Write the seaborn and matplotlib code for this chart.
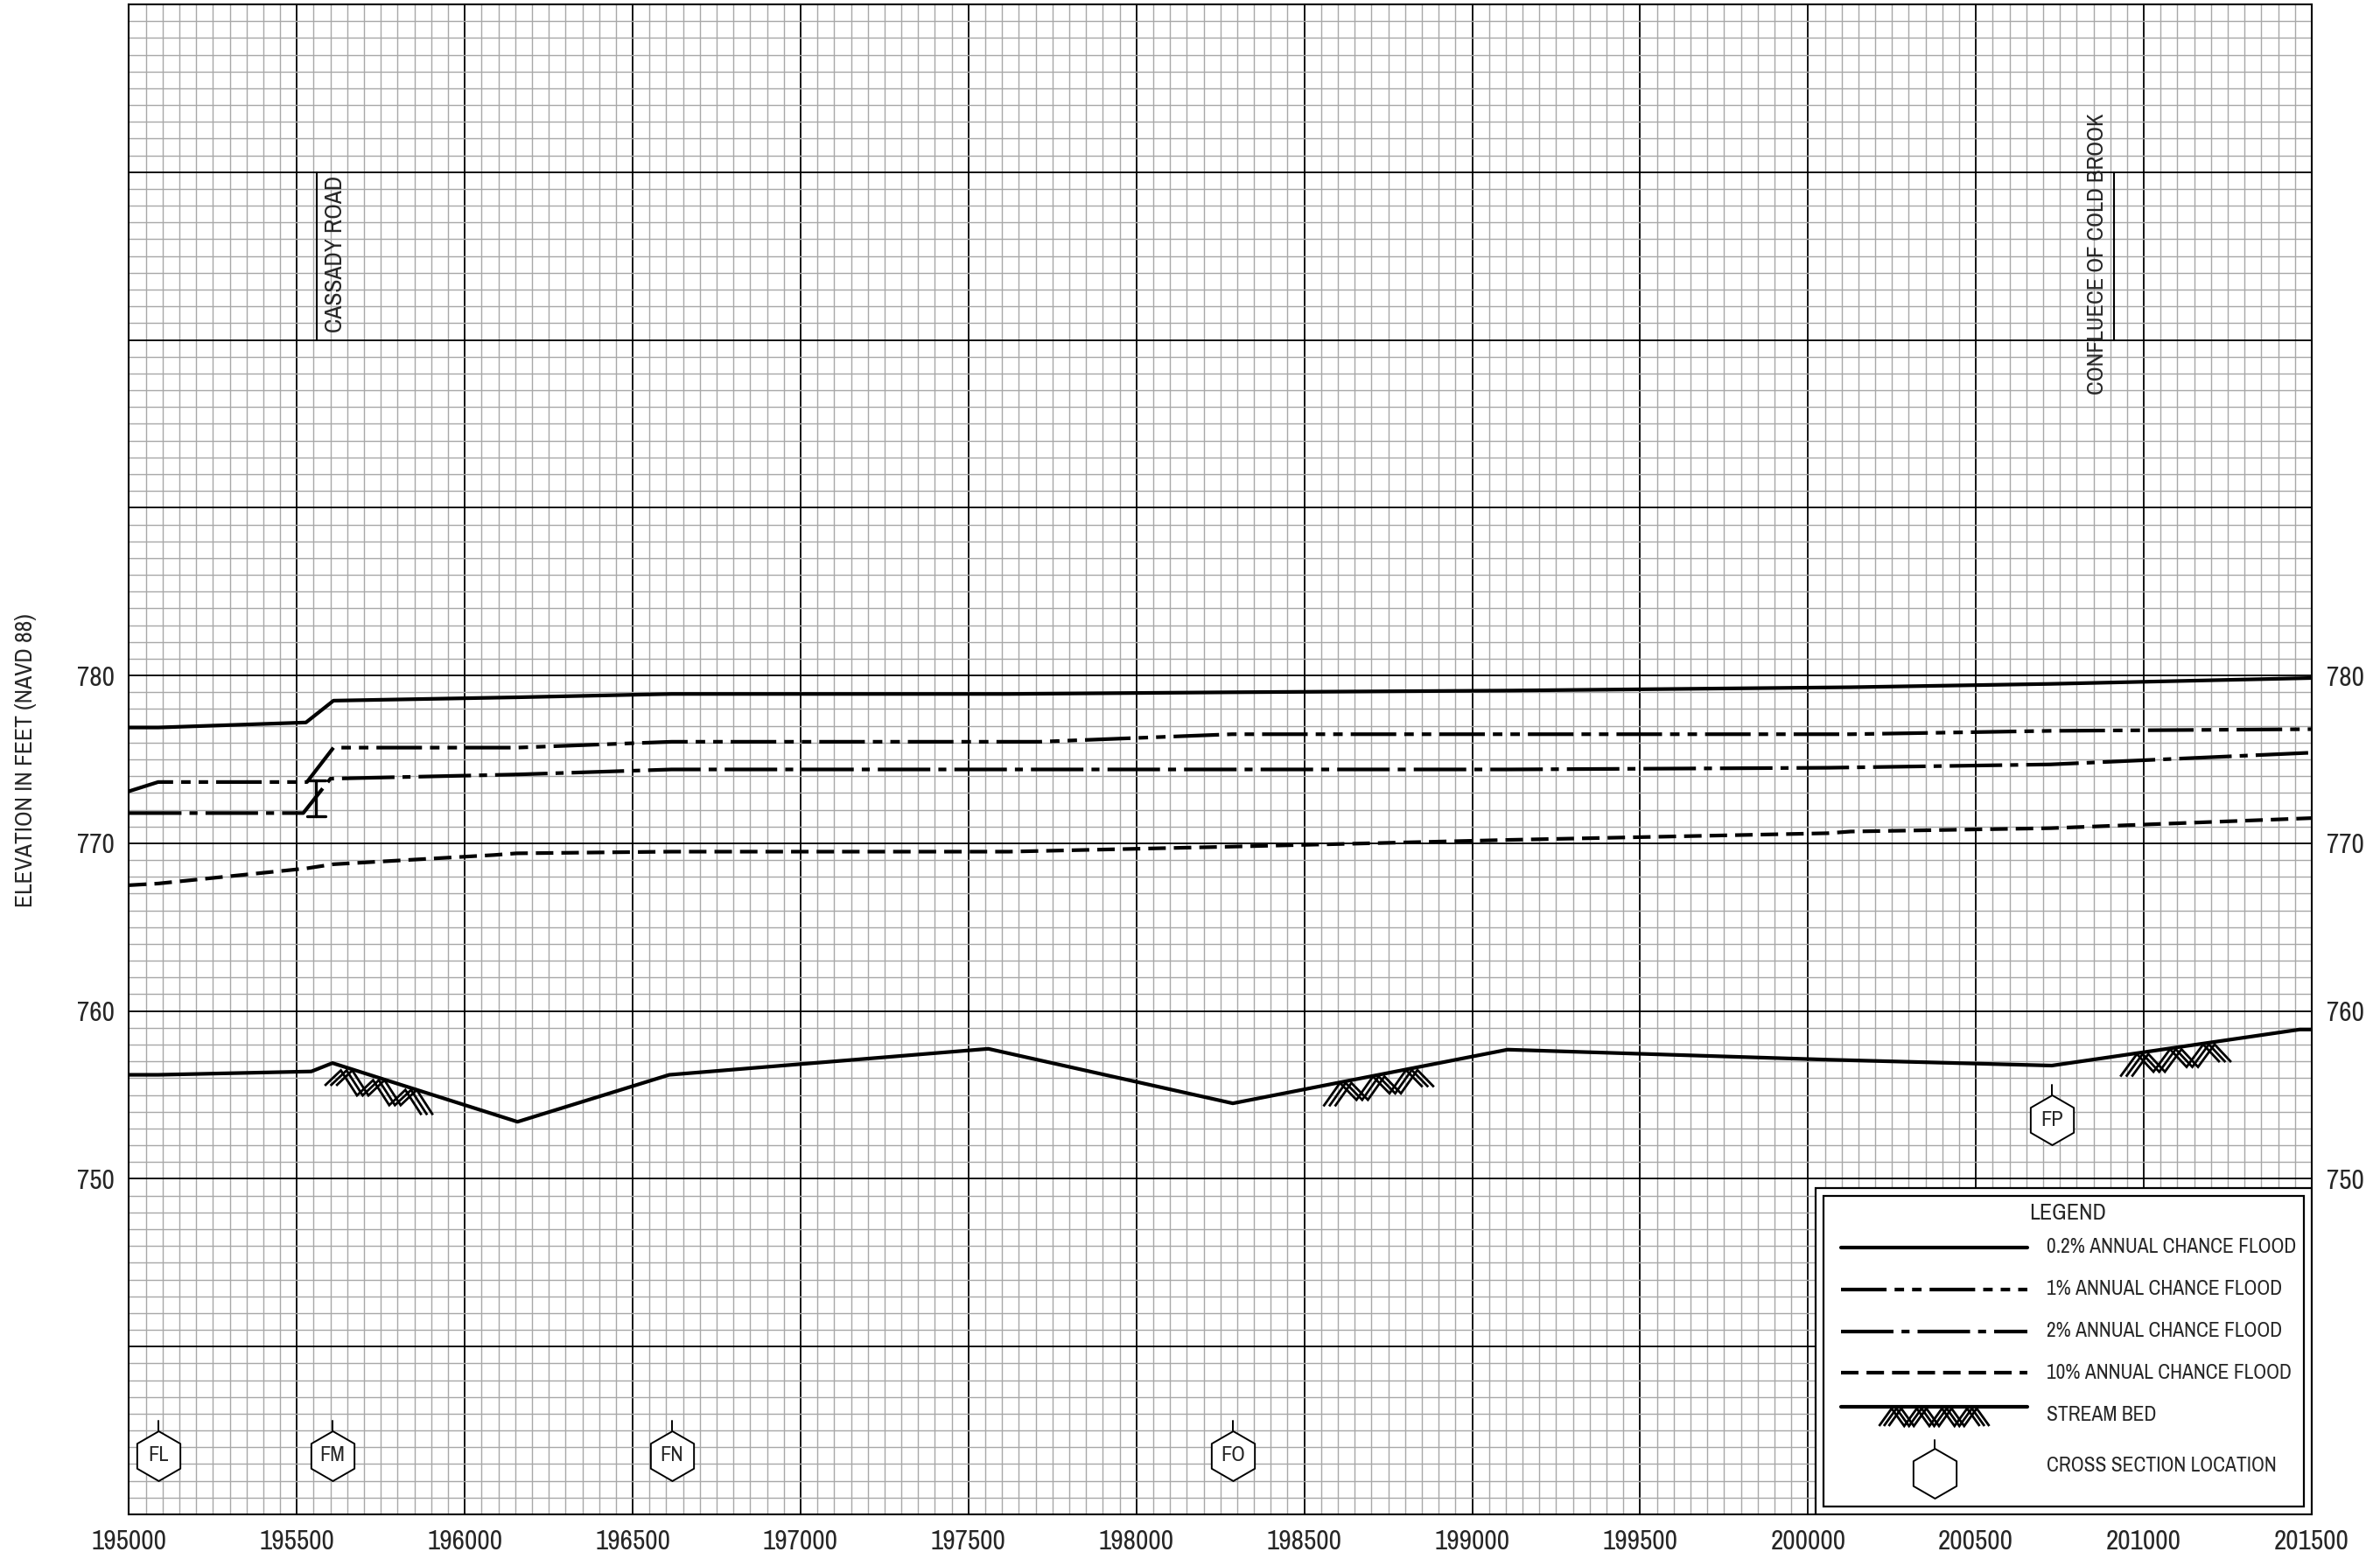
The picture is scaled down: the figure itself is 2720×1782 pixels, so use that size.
import os
import numpy as np
import matplotlib
matplotlib.use("Agg")
import matplotlib.pyplot as plt
from matplotlib import font_manager as fm
from matplotlib.patches import Rectangle
from matplotlib.ticker import MultipleLocator
import seaborn as sns

# stations (ft) and water surface elevations (ft NAVD 88)
x_02 = [195000, 195087, 195527, 195609, 196154, 196616, 197621, 198285, 199107, 200127, 200722, 201500]
y_02 = [776.9, 776.9, 777.2, 778.5, 778.7, 778.9, 778.9, 779.0, 779.1, 779.3, 779.5, 779.85]

x_1 = [195000, 195087, 195530, 195609, 196154, 196616, 197711, 198285, 199107, 200127, 200722, 201500]
y_1 = [773.1, 773.65, 773.65, 775.7, 775.7, 776.05, 776.05, 776.5, 776.5, 776.5, 776.7, 776.8]

x_2 = [195000, 195087, 195519, 195600, 196154, 196616, 199107, 200059, 200722, 201500]
y_2 = [771.8, 771.8, 771.8, 773.85, 774.1, 774.4, 774.4, 774.5, 774.7, 775.4]

x_10 = [195000, 195087, 195527, 195609, 196087, 196154, 196616, 197621, 198285, 199107, 200059, 200127, 200722, 201500]
y_10 = [767.5, 767.6, 768.5, 768.75, 769.3, 769.4, 769.5, 769.5, 769.8, 770.2, 770.6, 770.7, 770.9, 771.5]

bed_x = [195000, 195087, 195543, 195606, 196157, 196609, 197559, 198287, 199105, 200061, 200726, 201464, 201500]
bed_y = [756.2, 756.2, 756.4, 756.9, 753.4, 756.2, 757.75, 754.5, 757.7, 757.1, 756.75, 758.9, 758.9]

# stretches of stream bed drawn with the bed symbol
hatch_from = [195600, 198574, 200947]
hatch_to = [195888, 198869, 201243]

xs_names = ["FL", "FM", "FN", "FO", "FP"]
xs_station = [195087, 195606, 196616, 198287, 200726]
xs_elev = [733.5, 733.5, 733.5, 733.5, 753.5]

road_station = 195557
road_low, road_high = 771.6, 773.75

labels_x = ["CASSADY ROAD", "CONFLUECE OF COLD BROOK"]
labels_station = [195558, 200911]

x_ticks = list(range(195000, 201501, 500))
y_ticks = list(range(730, 821, 10))
y_labels = [str(v) if 750 <= v <= 780 else "" for v in y_ticks]

legend_labels = ["0.2% ANNUAL CHANCE FLOOD", "1% ANNUAL CHANCE FLOOD",
                 "2% ANNUAL CHANCE FLOOD", "10% ANNUAL CHANCE FLOOD"]

sns.set_style("white")
plt.rcParams['font.family'] = ['Roboto', 'DejaVu Sans']


# narrow face if one is installed, otherwise Roboto
def pick_font():
    best = None
    for key in ("narrow", "condensed"):
        for f in fm.fontManager.ttflist:
            base = os.path.basename(f.fname).lower()
            if key in base and not any(k in base for k in ("bold", "italic", "oblique", "light", "thin", "black", "medium", "semi", "extra")):
                best = f.fname
                break
        if best:
            return fm.FontProperties(fname=best)
    return fm.FontProperties(family=['Roboto', 'DejaVu Sans'])


FP = pick_font()

LW = 3.0
styles = ['-',
          (0, (12.5, 2.2, 2.6, 2.2, 2.6, 2.2)),
          (0, (14.4, 2.2, 2.2, 2.2)),
          (0, (4.8, 2.2))]

fig = plt.figure(figsize=(27.2, 17.82), dpi=100)
ax = fig.add_axes([147.4 / 2720, 51 / 1782, 2494.6 / 2720, 1726 / 1782])
renderer = fig.canvas.get_renderer()


def font(text, target_px):
    p = FP.copy()
    p.set_size(20)
    w, h, d = renderer.get_text_width_height_descent(text, p, ismath=False)
    p.set_size(20 * target_px / w)
    return p


for xx, yy, ls in zip([x_02, x_1, x_2, x_10], [y_02, y_1, y_2, y_10], styles):
    sns.lineplot(x=xx, y=yy, ax=ax, color='black', lw=LW, linestyle=ls,
                 sort=False, estimator=None, legend=False, zorder=3)

sns.lineplot(x=bed_x, y=bed_y, ax=ax, color='black', lw=LW, sort=False,
             estimator=None, legend=False, zorder=3)

# road structure marker
cap = 27
ax.plot([road_station, road_station], [road_low, road_high], color='black', lw=2.4, zorder=3)
ax.plot([road_station - cap, road_station + cap], [road_low, road_low], color='black', lw=2.4, zorder=3)
ax.plot([road_station - cap, road_station + cap], [road_high, road_high], color='black', lw=2.4, zorder=3)


def zigzag(ax, x0, x1, top0, top1, depth, shift, n=3, **kw):
    xs = np.linspace(x0, x1, 2 * n + 1)
    top = np.interp(xs, [x0, x1], [top0, top1])
    yy = np.where(np.arange(len(xs)) % 2 == 0, top - depth, top)
    for s in (-shift, 0, shift):
        ax.plot(xs + s, yy, color='black', lw=2.0, solid_capstyle='butt',
                solid_joinstyle='miter', **kw)


for a, b in zip(hatch_from, hatch_to):
    t0 = np.interp(a, bed_x, bed_y) - 0.1
    t1 = np.interp(b, bed_x, bed_y) - 0.1
    zigzag(ax, a, b, t0, t1, 1.2, 17, n=3, zorder=3)

# cross sections
sns.scatterplot(x=xs_station, y=xs_elev, ax=ax, marker='h', s=1681, color='white',
                edgecolor='black', linewidth=1.4, zorder=4, legend=False)
xs_font = font("FM", 29)
xs_font.set_weight('bold')
for name, xv, yv in zip(xs_names, xs_station, xs_elev):
    ax.plot([xv, xv], [yv + 1.48, yv + 2.1], color='black', lw=1.4, zorder=4)
    ax.text(xv, yv, name, ha='center', va='center', fontproperties=xs_font, zorder=5)

# vertical annotations
ax.plot([labels_station[0]] * 2, [800, 810], color='black', lw=1.5, zorder=3)
ax.text(labels_station[0] + 56, 805.1, labels_x[0], rotation=90, ha='center', va='center',
        fontproperties=font(labels_x[0], 180), zorder=4)
ax.plot([labels_station[1]] * 2, [800, 810], color='black', lw=1.5, zorder=3)
ax.text(labels_station[1] - 50, 805.1, labels_x[1], rotation=90, ha='center', va='center',
        fontproperties=font(labels_x[1], 323), zorder=4)

ax.set_xlim(195000, 201500)
ax.set_ylim(730, 820)
tick_font = font("201500", 86)
ax.set_xticks(x_ticks, [str(v) for v in x_ticks], fontproperties=tick_font)
ax.set_yticks(y_ticks, y_labels, fontproperties=tick_font)
ax.xaxis.set_minor_locator(MultipleLocator(50))
ax.yaxis.set_minor_locator(MultipleLocator(1))
ax.grid(which='minor', color='#a8a8a8', lw=1.0, zorder=0)
ax.grid(which='major', color='black', lw=1.3, zorder=1)
ax.tick_params(which='both', length=0)
ax.tick_params(axis='x', pad=12)
ax.tick_params(axis='y', pad=12, labelright=True)
for sp in ax.spines.values():
    sp.set_color('black')
    sp.set_linewidth(1.5)
ax.set_xlabel("")
ax.set_ylabel("")
ylab = "ELEVATION IN FEET (NAVD 88)"
fig.text(30 / 2720, 1 - 869 / 1782, ylab, rotation=90,
         ha='center', va='center', fontproperties=font(ylab, 338))


# ---- legend box (drawn in axes fractions from pixel layout)
def fx(px):
    return (px - 147.4) / 2494.6


def fy(py):
    return (1731 - py) / 1726


ax.add_patch(Rectangle((fx(2075), fy(1731)), fx(2642) - fx(2075), fy(1358) - fy(1731),
                       transform=ax.transAxes, fc='white', ec='black', lw=1.6, zorder=6))
ax.add_patch(Rectangle((fx(2084), fy(1722)), fx(2633) - fx(2084), fy(1367) - fy(1722),
                       transform=ax.transAxes, fc='none', ec='black', lw=1.6, zorder=7))
ax.text(fx(2363), fy(1386), "LEGEND", transform=ax.transAxes, ha='center', va='center',
        fontproperties=font("LEGEND", 88), zorder=8)
leg_font = font(legend_labels[0], 286)
rows = [1426, 1474, 1522, 1569]
for ls, lab, r in zip(styles, legend_labels, rows):
    ax.plot([fx(2104), fx(2317)], [fy(r), fy(r)], transform=ax.transAxes, color='black',
            lw=LW, linestyle=ls, zorder=8)
    ax.text(fx(2339), fy(r), lab, transform=ax.transAxes, va='center', fontproperties=leg_font, zorder=8)
ax.plot([fx(2104), fx(2317)], [fy(1608), fy(1608)], transform=ax.transAxes, color='black',
        lw=LW, zorder=8)
zigzag(ax, fx(2153), fx(2268), fy(1610), fy(1610), fy(1610) - fy(1630), 5.5 / 2494.6, n=4,
       transform=ax.transAxes, zorder=8)
ax.text(fx(2339), fy(1618), "STREAM BED", transform=ax.transAxes, va='center',
        fontproperties=leg_font, zorder=8)
ax.scatter([fx(2211)], [fy(1684)], transform=ax.transAxes, marker='h', s=1681, color='white',
           edgecolor='black', linewidth=1.4, zorder=8)
ax.plot([fx(2211), fx(2211)], [fy(1655), fy(1646)], transform=ax.transAxes, color='black',
        lw=1.4, zorder=8)
ax.text(fx(2339), fy(1675), "CROSS SECTION LOCATION", transform=ax.transAxes, va='center',
        fontproperties=leg_font, zorder=8)

fig.savefig("out.png", dpi=100, facecolor='white')
